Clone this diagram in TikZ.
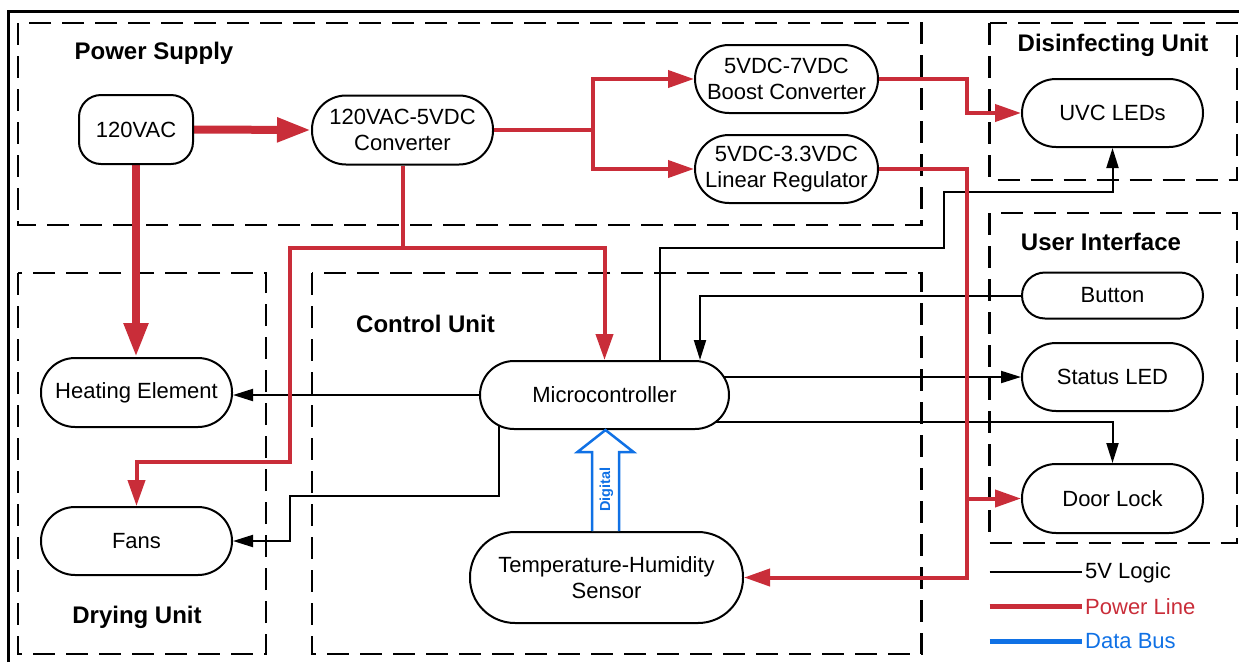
\documentclass[tikz,border=0pt]{standalone}
\usepackage{fontspec}
\setmainfont{Liberation Sans}
\usetikzlibrary{arrows.meta,calc,backgrounds}
\definecolor{pwr}{HTML}{C92D39}
\definecolor{bus}{HTML}{1071E5}
\tikzset{
  blk/.style={draw=black, line width=2pt, fill=white, inner sep=0pt, align=center, font=\fontsize{22}{26}\selectfont},
  grp/.style={draw=black, line width=2.2pt, dash pattern=on 22pt off 11pt},
  ttl/.style={font=\bfseries\fontsize{24}{28}\selectfont, inner sep=0pt},
  logicline/.style={draw=black, line width=2pt},
  logic/.style={logicline, -{Triangle[length=20pt,width=12pt]}},
  powerline/.style={draw=pwr, line width=4pt},
  power/.style={powerline, -{Triangle[length=26pt,width=17pt]}},
  mainpower/.style={draw=pwr, line width=8pt, -{Triangle[length=34pt,width=23pt]}},
  busline/.style={draw=bus, line width=5pt},
  legtxt/.style={font=\fontsize{22}{26}\selectfont, inner sep=3.5pt, anchor=west},
}
\begin{document}
\begin{tikzpicture}[x=1pt,y=-1pt]
\useasboundingbox (0,0) rectangle (1239,662);
% outer frame
\draw[line width=2.5pt] (8.7,662) -- (8.7,11.7) -- (1239,11.7);

% titles
\node[ttl] (tps) at (154,53) {Power Supply};
\node[ttl] (tdu) at (1113,45) {Disinfecting Unit};
\node[ttl] (tui) at (1101,242) {User Interface};
\node[ttl] (tcu) at (425.5,324) {Control Unit};
\node[ttl] (tdr) at (137,617) {Drying Unit};

% blocks
\node[blk, minimum width=114, minimum height=69, rounded corners=22] (ac) at (136,129.5) {120VAC};
\node[blk, minimum width=181, minimum height=69, rounded corners=34] (conv) at (402.5,130) {120VAC-5VDC\\Converter};
\node[blk, minimum width=183, minimum height=68, rounded corners=34] (boost) at (786.5,79) {5VDC-7VDC\\Boost Converter};
\node[blk, minimum width=183, minimum height=68, rounded corners=34] (reg) at (786.5,169) {5VDC-3.3VDC\\Linear Regulator};
\node[blk, minimum width=181, minimum height=68, rounded corners=34] (uvc) at (1112.5,113) {UVC LEDs};
\node[blk, minimum width=181, minimum height=46, rounded corners=23] (btn) at (1112.5,295.5) {Button};
\node[blk, minimum width=181, minimum height=68, rounded corners=34] (sled) at (1112.5,377) {Status LED};
\node[blk, minimum width=181, minimum height=69, rounded corners=34] (door) at (1112.5,498.5) {Door Lock};
\node[blk, minimum width=191, minimum height=69, rounded corners=34] (he) at (136.5,392.5) {Heating Element};
\node[blk, minimum width=191, minimum height=68, rounded corners=34] (fans) at (136.5,541) {Fans};
\node[blk, minimum width=249, minimum height=68, rounded corners=34] (mc) at (604.5,395) {Microcontroller};
\node[blk, minimum width=273, minimum height=91, rounded corners=45] (ths) at (606.5,577.5) {Temperature-Humidity\\Sensor};

% data bus arrow
\coordinate (bt) at (mc.south -| 605.5,0);
\coordinate (bb) at (ths.north -| 605.5,0);
\draw[draw=bus, line width=2.5pt, fill=white, line join=miter]
  ($(bb)+(-13.5,0)$) -- ($(bt)+(-13.5,22)$) -- ($(bt)+(-28,22)$) -- (bt)
  -- ($(bt)+(28,22)$) -- ($(bt)+(13.5,22)$) -- ($(bb)+(13.5,0)$);
\node[rotate=90, inner sep=0pt, text=bus, font=\bfseries\fontsize{14.5}{15}\selectfont] (dig) at (606.5,489.5) {Digital};

% legend
\node[legtxt] (lg1) at (1081.5,573) {5V Logic};
\node[legtxt, text=pwr] (lg2) at (1081.5,607) {Power Line};
\node[legtxt, text=bus] (lg3) at (1081.5,641) {Data Bus};
\coordinate (k1) at (989.5,572);
\coordinate (k2) at (989.5,606);
\coordinate (k3) at (989.5,641);
\draw[logicline] (k1) -- (k1 -| lg1.west);
\draw[powerline, line width=5pt] (k2) -- (k2 -| lg2.west);
\draw[busline] (k3) -- (k3 -| lg3.west);

\begin{pgfonlayer}{background}
% group boxes
\draw[grp] (18,23) rectangle (921.5,225);
\draw[grp] (989.5,23) rectangle (1237,180);
\draw[grp] (989.5,213) rectangle (1237,543);
\draw[grp] (18,273) rectangle (266,654);
\draw[grp] (312,273) rectangle (921.5,654);

% logic lines
\draw[logic] (mc.west) -- (mc.west -| he.east);
\draw[logic] ($(mc.center)+(-105.5,0)$) |- (290,496) |- (fans.east);
\draw[logic] ($(mc.north)+(55,0)$) |- (944,248) -- (944,192) -| (uvc.south);
\draw[logic] (btn.west) -| ($(mc.north)+(95.5,0)$);
\draw[logic] (sled.west -| mc.center) -- (sled.west);
\draw[logic] ($(mc.center)+(0,27)$) -| (door.north);

% power lines
\draw[mainpower] (ac.east) -- (conv.west);
\draw[mainpower] (ac.south) -- (ac.south |- he.north);
\coordinate (j0) at (593,130);
\draw[power] (conv.east) -- (j0) |- (boost.west);
\draw[power] (j0) |- (reg.west);
\coordinate (j1) at (conv.south |- 0,248);
\draw[power] (conv.south) -- (j1) -| (mc.north);
\draw[power] (j1) -| (290,462) -| (fans.north);
\draw[power] (boost.east) -- (967,79) |- (uvc.west);
\coordinate (j2) at (967,498.5);
\draw[power] (reg.east) -- (967,169) |- (ths.east);
\draw[power] (j2) -- (door.west);
\end{pgfonlayer}
\end{tikzpicture}
\end{document}
